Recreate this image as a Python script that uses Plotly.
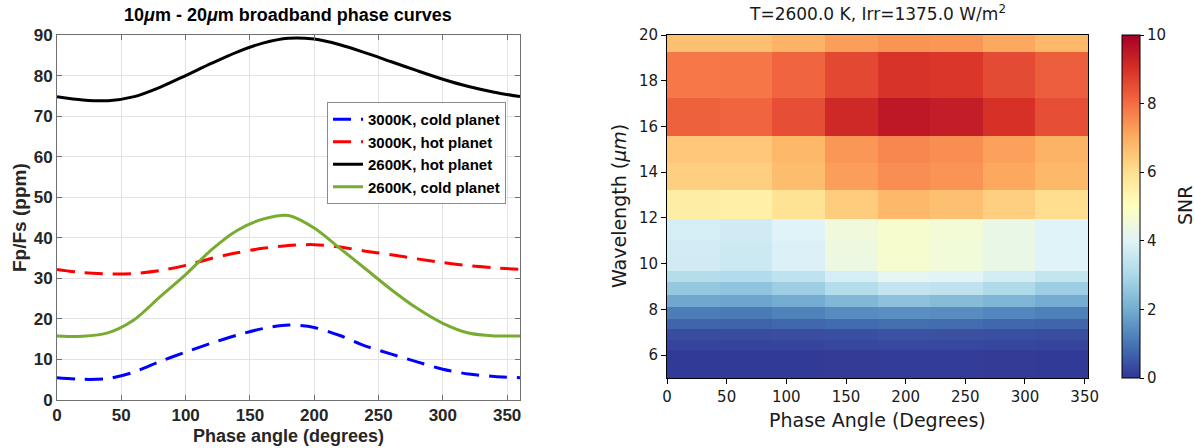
import plotly.graph_objects as go

# ---- Left panel: broadband phase curves (Fp/Fs in ppm vs phase angle) ----
phase = [0, 20, 40, 60, 80, 100, 120, 140, 160, 180, 200, 220, 240, 260, 280, 300, 320, 340, 360]
cold_3000 = [5.5, 5.1, 5.3, 6.9, 9.5, 11.8, 14.0, 16.0, 17.6, 18.5, 17.9, 15.9, 13.3, 11.3, 9.4, 7.6, 6.4, 5.8, 5.5]
hot_3000 = [32.2, 31.4, 31.1, 31.2, 31.9, 33.2, 34.9, 36.3, 37.4, 38.1, 38.3, 37.7, 36.7, 35.8, 34.8, 33.9, 33.1, 32.6, 32.2]
hot_2600 = [74.8, 74.0, 73.8, 74.8, 77.1, 80.0, 83.0, 85.8, 88.0, 89.2, 89.0, 87.6, 85.6, 83.4, 81.2, 79.1, 77.3, 75.9, 74.8]
cold_2600 = [15.8, 15.7, 16.6, 19.8, 25.4, 30.9, 37.0, 41.8, 44.6, 45.5, 42.4, 37.4, 32.3, 27.2, 22.6, 18.9, 16.5, 15.8, 15.8]

# ---- Right panel: SNR map (wavelength bins x phase bins) ----
phase_edges = [0, 44.1, 88.2, 132.3, 176.4, 220.5, 264.6, 308.7, 352.8]
wave_edges = [5.0, 6.24, 6.68, 7.15, 7.60, 8.09, 8.65, 9.18, 9.69, 10.32, 11.0,
              11.97, 13.2, 14.42, 15.6, 17.26, 19.27, 20.0]
snr = [
    [0.06, 0.06, 0.07, 0.08, 0.10, 0.10, 0.08, 0.06],
    [0.22, 0.21, 0.23, 0.27, 0.30, 0.28, 0.25, 0.22],
    [0.36, 0.35, 0.38, 0.42, 0.45, 0.43, 0.40, 0.38],
    [0.75, 0.72, 0.80, 0.86, 0.90, 0.88, 0.80, 0.75],
    [1.15, 1.10, 1.25, 1.40, 1.47, 1.42, 1.30, 1.20],
    [1.90, 1.85, 2.00, 2.25, 2.45, 2.35, 2.20, 2.00],
    [2.60, 2.50, 2.75, 3.15, 3.45, 3.35, 3.05, 2.75],
    [3.15, 3.10, 3.35, 3.80, 4.15, 4.05, 3.75, 3.45],
    [3.70, 3.60, 3.90, 4.40, 4.72, 4.55, 4.30, 4.00],
    [3.72, 3.62, 3.92, 4.42, 4.75, 4.55, 4.30, 4.00],
    [3.80, 3.70, 4.00, 4.50, 4.75, 4.60, 4.30, 4.00],
    [5.55, 5.50, 5.90, 6.40, 6.80, 6.65, 6.35, 6.05],
    [6.35, 6.35, 6.70, 7.25, 7.50, 7.40, 7.10, 6.80],
    [6.50, 6.50, 6.80, 7.35, 7.60, 7.50, 7.20, 6.90],
    [8.20, 8.15, 8.50, 9.15, 9.50, 9.40, 9.00, 8.50],
    [7.83, 7.85, 8.15, 8.60, 8.95, 8.90, 8.55, 8.25],
    [6.64, 6.64, 6.90, 7.25, 7.40, 7.35, 7.10, 6.80],
]

W, H = 1195, 448
RDYLBU_R = ["#313695", "#4575b4", "#74add1", "#abd9e9", "#e0f3f8", "#ffffbf",
            "#fee090", "#fdae61", "#f46d43", "#d73027", "#a50026"]
colorscale = [[i / 10, c] for i, c in enumerate(RDYLBU_R)]

HELV = "Liberation Sans, Arial, sans-serif"
DEJAVU = "DejaVu Sans, sans-serif"


def px_x(x):
    return x / W


def px_y(y):
    return 1 - y / H


fig = go.Figure()

dash_style = "18px,10px"
fig.add_trace(go.Scatter(x=phase, y=cold_3000, mode="lines", name="3000K, cold planet",
                         line=dict(color="#0000ff", width=3, dash=dash_style, shape="spline", smoothing=0.8),
                         xaxis="x", yaxis="y"))
fig.add_trace(go.Scatter(x=phase, y=hot_3000, mode="lines", name="3000K, hot planet",
                         line=dict(color="#ff0000", width=3, dash=dash_style, shape="spline", smoothing=0.8),
                         xaxis="x", yaxis="y"))
fig.add_trace(go.Scatter(x=phase, y=hot_2600, mode="lines", name="2600K, hot planet",
                         line=dict(color="#000000", width=3, shape="spline", smoothing=0.8),
                         xaxis="x", yaxis="y"))
fig.add_trace(go.Scatter(x=phase, y=cold_2600, mode="lines", name="2600K, cold planet",
                         line=dict(color="#77ac30", width=3, shape="spline", smoothing=0.8),
                         xaxis="x", yaxis="y"))

fig.add_trace(go.Heatmap(
    x=phase_edges, y=wave_edges, z=snr,
    zmin=0, zmax=10, colorscale=colorscale, showlegend=False,
    xaxis="x2", yaxis="y2",
    colorbar=dict(
        x=px_x(1122), xanchor="left", y=px_y(378), yanchor="bottom",
        xpad=0, ypad=0,
        len=(378 - 35) / H, lenmode="fraction", thickness=18, thicknessmode="pixels",
        outlinecolor="#000000", outlinewidth=1,
        ticks="outside", ticklen=4, tickcolor="#000000",
        tickvals=[0, 2, 4, 6, 8, 10],
        tickfont=dict(family=DEJAVU, size=15, color="#1a1a1a"),
    ),
))

left_axis_common = dict(
    showline=True, linecolor="#707070", linewidth=1, mirror="ticks",
    ticks="inside", ticklen=5, tickcolor="#707070",
    showgrid=True, gridcolor="#e3e3e3", gridwidth=1, zeroline=False,
    tickfont=dict(family=HELV, size=17, color="#262626", weight="bold"),
)
right_axis_common = dict(
    showline=True, linecolor="#000000", linewidth=1, mirror=True,
    ticks="outside", ticklen=5, tickcolor="#000000",
    showgrid=False, zeroline=False,
    tickfont=dict(family=DEJAVU, size=15, color="#1a1a1a"),
)

fig.update_layout(
    width=W, height=H,
    margin=dict(l=0, r=0, t=0, b=0, autoexpand=False),
    paper_bgcolor="white", plot_bgcolor="white",
    xaxis=dict(domain=[px_x(57), px_x(520)], anchor="y", range=[0, 360],
               tickvals=[0, 50, 100, 150, 200, 250, 300, 350], automargin=False, **left_axis_common),
    yaxis=dict(domain=[px_y(400), px_y(35)], anchor="x", range=[0, 90],
               tickvals=list(range(0, 91, 10)), automargin=False, **left_axis_common),
    xaxis2=dict(domain=[px_x(667), px_x(1088)], anchor="y2", range=[0, 352.8],
                tickvals=[0, 50, 100, 150, 200, 250, 300, 350], automargin=False, **right_axis_common),
    yaxis2=dict(domain=[px_y(378), px_y(35)], anchor="x2", range=[5, 20],
                tickvals=[6, 8, 10, 12, 14, 16, 18, 20], automargin=False, **right_axis_common),
    legend=dict(
        x=px_x(327), y=px_y(102), xanchor="left", yanchor="top",
        bgcolor="white", bordercolor="#8c8c8c", borderwidth=1,
        font=dict(family=HELV, size=15, color="#000000", weight="bold"),
        tracegroupgap=0, itemwidth=30,
    ),
    showlegend=True,
)

annotations = [
    dict(text="10<i>μ</i>m - 20<i>μ</i>m broadband phase curves", x=px_x(288), y=px_y(15),
         font=dict(family=HELV, size=18, color="#000000", weight="bold")),
    dict(text="Fp/Fs (ppm)", x=px_x(20), y=px_y(218), textangle=-90,
         font=dict(family=HELV, size=19, color="#262626", weight="bold")),
    dict(text="Phase angle (degrees)", x=px_x(288), y=px_y(436),
         font=dict(family=HELV, size=18, color="#262626", weight="bold")),
    dict(text="T=2600.0 K, Irr=1375.0 W/m<sup>2</sup>", x=px_x(877), y=px_y(13),
         font=dict(family=DEJAVU, size=17, color="#1a1a1a")),
    dict(text="Wavelength (<i>μm</i>)", x=px_x(619), y=px_y(206), textangle=-90,
         font=dict(family=DEJAVU, size=19, color="#1a1a1a")),
    dict(text="Phase Angle (Degrees)", x=px_x(877), y=px_y(420),
         font=dict(family=DEJAVU, size=19, color="#1a1a1a")),
    dict(text="SNR", x=px_x(1185), y=px_y(206), textangle=-90,
         font=dict(family=DEJAVU, size=19, color="#1a1a1a")),
]
for a in annotations:
    a.update(xref="paper", yref="paper", showarrow=False, xanchor="center", yanchor="middle")
fig.update_layout(annotations=annotations)

fig.write_html("out.html")
